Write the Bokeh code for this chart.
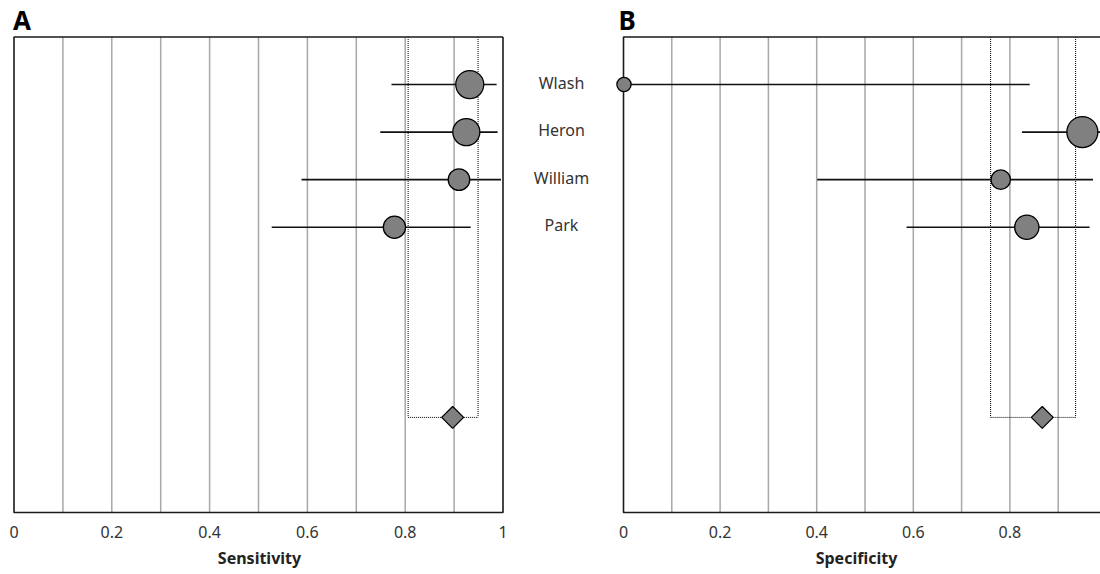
import numpy as np
from bokeh.plotting import figure
from bokeh.models import Range1d, FixedTicker, NumeralTickFormatter
from bokeh.layouts import row
from bokeh.core.properties import value
from bokeh.embed import file_html
from bokeh.resources import INLINE

# ---------------- data ----------------
studies = ["Wlash", "Heron", "William", "Park"]

sens = [0.932, 0.925, 0.910, 0.778]
sens_lo = [0.772, 0.749, 0.588, 0.527]
sens_hi = [0.987, 0.989, 0.996, 0.934]
sens_weight = [31.7, 29.6, 18.7, 20.0]

spec = [0.001, 0.950, 0.781, 0.835]
spec_lo = [0.0, 0.825, 0.401, 0.586]
spec_hi = [0.841, 1.0, 0.972, 0.965]
spec_weight = [9.5, 45.2, 17.7, 27.6]

pooled_sens = 0.897
pooled_sens_ci = [0.806, 0.949]
pooled_spec = 0.867
pooled_spec_ci = [0.760, 0.936]

x_ticks = [0, 0.2, 0.4, 0.6, 0.8, 1]
grid_ticks = [0.1, 0.2, 0.3, 0.4, 0.5, 0.6, 0.7, 0.8, 0.9]

# ---------------- layout ----------------
FONT = "Noto Sans"
N_BOX = 10          # box spans rows 0..10 (top to bottom)
POOLED_ROW = 8
UNIT_Y = 47.55      # px per row
FRAME_H = 510
Y_RANGE = (N_BOX + 6 / UNIT_Y, -(28.5 / UNIT_Y))
row_y = [i + 1 for i in range(len(studies))]

GRID_COLOR = "#a8a8a8"
FILL = "#808080"


def panel(letter, est, lo, hi, weight, pooled, pooled_ci, xrange, frame_w,
          xlabel, max_size, letter_offset, border_left):
    p = figure(frame_width=frame_w, frame_height=FRAME_H,
               x_range=Range1d(*xrange), y_range=Range1d(*Y_RANGE),
               output_backend="svg", toolbar_location=None,
               y_axis_location=None, outline_line_color=None,
               min_border_left=border_left, min_border_right=0, min_border_top=8,
               min_border_bottom=40)
    p.grid.visible = False

    # vertical grid lines inside box
    p.segment(x0=grid_ticks, y0=[0] * len(grid_ticks), x1=grid_ticks,
              y1=[N_BOX] * len(grid_ticks), line_color=GRID_COLOR, line_width=1.5)

    # pooled dotted box
    p.segment(x0=pooled_ci, y0=[0, 0], x1=pooled_ci, y1=[POOLED_ROW] * 2,
              line_color="black", line_width=1, line_dash="1 1")
    p.segment(x0=[pooled_ci[0]], y0=[POOLED_ROW], x1=[pooled_ci[1]], y1=[POOLED_ROW],
              line_color="black", line_width=1, line_dash="1 1")

    # frame box
    p.line(x=[1, 0, 0, 1, 1], y=[0, 0, N_BOX, N_BOX, 0], line_color="#1a1a1a",
           line_width=1.6)

    # CIs
    p.segment(x0=lo, y0=row_y, x1=hi, y1=row_y, line_color="#111111", line_width=1.6)
    w = np.array(weight)
    sizes = max_size * np.sqrt(w / w.max())
    p.scatter(x=est, y=row_y, size=sizes, marker="circle", fill_color=FILL,
              line_color="black", line_width=1.3)

    # pooled diamond
    p.scatter(x=[pooled], y=[POOLED_ROW], size=15.5, marker="square", angle=np.pi / 4,
              fill_color=FILL, line_color="black", line_width=1.3)

    # panel letter
    p.text(x=[0], y=[-0.36], text=[letter], x_offset=letter_offset,
           text_baseline="alphabetic", text_align="left",
           text_font=value(FONT), text_font_style="bold", text_font_size="26px",
           text_color="black")

    ax = p.xaxis[0]
    ax.ticker = FixedTicker(ticks=x_ticks)
    ax.formatter = NumeralTickFormatter(format="0.[0]")
    ax.axis_line_color = None
    ax.major_tick_line_color = None
    ax.minor_tick_line_color = None
    ax.major_tick_out = 0
    ax.major_tick_in = 0
    ax.major_label_standoff = 7
    ax.major_label_text_font = FONT
    ax.major_label_text_font_size = "16px"
    ax.major_label_text_color = "#333333"
    ax.axis_label = xlabel
    ax.axis_label_text_font = FONT
    ax.axis_label_text_font_size = "16px"
    ax.axis_label_text_font_style = "bold"
    ax.axis_label_text_color = "#222222"
    ax.axis_label_standoff = 6
    return p


pA = panel("A", sens, sens_lo, sens_hi, sens_weight, pooled_sens, pooled_sens_ci,
           (-5.5 / 489, 1 + 7.5 / 489), 502, "Sensitivity", 28, -1, 8)
pB = panel("B", spec, spec_lo, spec_hi, spec_weight, pooled_spec, pooled_spec_ci,
           (-11 / 483, 477 / 483), 488, "Specificity", 31, -5, 0)

# study labels between panels
pL = figure(frame_width=102, frame_height=FRAME_H, x_range=Range1d(0, 1),
            y_range=Range1d(*Y_RANGE), output_backend="svg", toolbar_location=None,
            x_axis_location=None, y_axis_location=None, outline_line_color=None,
            min_border_left=0, min_border_right=0, min_border_top=8,
            min_border_bottom=40)
pL.grid.visible = False
pL.text(x=[0.5] * len(studies), y=row_y, text=studies, text_align="center",
        text_baseline="middle", y_offset=-2, text_font=value(FONT),
        text_font_size="16px", text_color="#333333")

layout = row(pA, pL, pB)
open("out.html", "w").write(file_html(layout, INLINE))
